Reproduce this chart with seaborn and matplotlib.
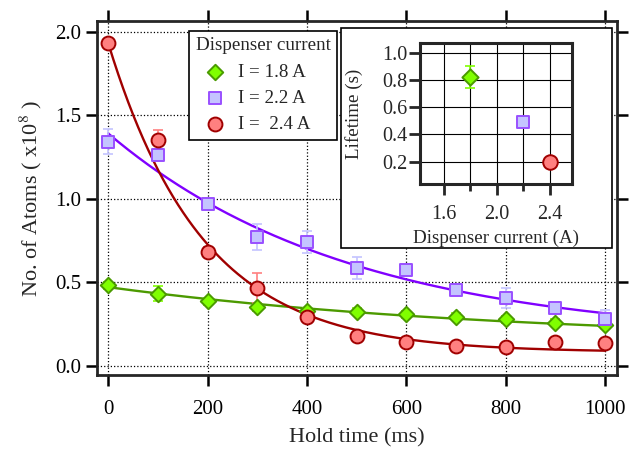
import numpy as np
import pandas as pd
import matplotlib
matplotlib.use('Agg')
import matplotlib.pyplot as plt
import seaborn as sns
from matplotlib.patches import Rectangle

# hold time (ms)
hold_time = [0, 100, 200, 300, 400, 500, 600, 700, 800, 900, 1000]

# number of atoms (x10^8) per dispenser current
atoms_18 = [0.48, 0.432, 0.386, 0.350, 0.328, 0.324, 0.308, 0.294, 0.278, 0.258, 0.244]
atoms_22 = [1.340, 1.260, 0.970, 0.770, 0.740, 0.584, 0.570, 0.454, 0.404, 0.348, 0.278]
atoms_24 = [1.932, 1.354, 0.678, 0.464, 0.294, 0.178, 0.144, 0.120, 0.112, 0.144, 0.138]

err_18 = [0.02, 0.045, 0.02, 0.02, 0.02, 0.02, 0.02, 0.02, 0.02, 0.02, 0.02]
err_22 = [0.075, 0.03, 0.02, 0.08, 0.065, 0.065, 0.03, 0.03, 0.06, 0.03, 0.057]
err_24 = [0.02, 0.055, 0.03, 0.09, 0.03, 0.02, 0.02, 0.02, 0.02, 0.02, 0.02]

# exponential fits  N(t) = A exp(-t/tau) + C
fit_amp = [0.329, 1.237, 1.85]
fit_tau = [820, 490, 190]
fit_off = [0.141, 0.153, 0.08]

# inset: lifetime vs dispenser current
currents = [1.8, 2.2, 2.4]
lifetimes = [0.82, 0.494, 0.196]
lifetime_err = [0.08, 0.02, 0.01]

labels = ['I = 1.8 A', 'I = 2.2 A', 'I =  2.4 A']
markers = ['D', 's', 'o']
msizes = [62, 75, 100]
faces = ['#80ff00', '#c4c4ff', '#ff8080']
edges = ['#4a9a00', '#9950ff', '#a00000']
lines = ['#4c9a00', '#8000ff', '#a00000']
errcols = ['#80ff00', '#c4c4ff', '#ff8080']

sns.set_style('ticks')
plt.rcParams['font.family'] = ['Liberation Serif', 'DejaVu Serif']
plt.rcParams['mathtext.fontset'] = 'stix'

fig = plt.figure(figsize=(6.29, 4.49), dpi=100)
ax = fig.add_axes([0.1537, 0.1637, 0.8268, 0.7895])
ax.set_zorder(1)

series = [atoms_18, atoms_22, atoms_24]
errs = [err_18, err_22, err_24]
t = np.linspace(0, 1000, 300)
for i in range(3):
    fit = fit_amp[i] * np.exp(-t / fit_tau[i]) + fit_off[i]
    sns.lineplot(x=t, y=fit, color=lines[i], linewidth=1.7, ax=ax, zorder=2)
for i in range(3):
    ax.errorbar(hold_time, series[i], yerr=errs[i], fmt='none',
                ecolor=errcols[i], elinewidth=1.2, capsize=3.5, capthick=1.2, zorder=3)
    sns.scatterplot(x=hold_time, y=series[i], marker=markers[i], s=msizes[i],
                    color=faces[i], edgecolor=edges[i], linewidth=1.4,
                    label=labels[i], ax=ax, zorder=4)

ax.set_xlim(-23.4, 1023.6)
ax.set_ylim(-0.059, 2.064)
ax.set_xticks(range(0, 1001, 200))
ax.set_yticks([0, 0.5, 1.0, 1.5, 2.0])
ax.set_yticklabels(['0.0', '0.5', '1.0', '1.5', '2.0'])
ax.grid(True, color='black', linestyle=':', linewidth=0.9)
for s in ax.spines.values():
    s.set_linewidth(2)
ax.tick_params(direction='out', length=8, width=1.8, top=True, right=True,
               labelsize=15, colors='black')
ax.tick_params(axis='x', pad=9.5)
ax.tick_params(axis='y', pad=3)
ax.set_xlabel('Hold time (ms)', fontsize=16, labelpad=7)
ax.set_ylabel(r'No. of Atoms ( x10$^{8}$ )', fontsize=16, labelpad=8)

leg = ax.legend(title='Dispenser current', loc='upper left',
                bbox_to_anchor=(189 / 629, 1 - 30.7 / 449), bbox_transform=fig.transFigure,
                fontsize=13.7, title_fontsize=13.7, frameon=True, fancybox=False,
                edgecolor='black', framealpha=1, borderpad=0.35, labelspacing=0.47,
                handlelength=2.0, handletextpad=0.2, borderaxespad=0)
leg.get_frame().set_linewidth(1.2)
leg._legend_box.align = 'left'

# inset frame
fig.add_artist(Rectangle((341 / 629, 1 - 248 / 449), 271 / 629, 220 / 449,
                         transform=fig.transFigure, facecolor='white',
                         edgecolor='black', linewidth=1.2, zorder=3))

ax2 = fig.add_axes([0.6677, 0.5902, 0.2421, 0.3134])
ax2.set_zorder(5)
for i in range(3):
    ax2.errorbar([currents[i]], [lifetimes[i]], yerr=[lifetime_err[i]], fmt='none',
                 ecolor=errcols[i], elinewidth=1.2, capsize=3.5, capthick=1.2, zorder=3)
    sns.scatterplot(x=[currents[i]], y=[lifetimes[i]], marker=markers[i], s=msizes[i] * 1.1,
                    color=faces[i], edgecolor=edges[i], linewidth=1.4, ax=ax2, zorder=4,
                    legend=False)
ax2.set_xlim(1.423, 2.569)
ax2.set_ylim(0.036, 1.069)
ax2.set_xticks([1.6, 2.0, 2.4])
ax2.set_xticklabels(['1.6', '2.0', '2.4'])
ax2.set_xticks([1.8, 2.2], minor=True)
ax2.set_yticks([0.2, 0.4, 0.6, 0.8, 1.0])
ax2.set_yticklabels(['0.2', '0.4', '0.6', '0.8', '1.0'])
ax2.grid(True, which='both', color='black', linestyle='-', linewidth=0.8)
for s in ax2.spines.values():
    s.set_linewidth(2.2)
ax2.tick_params(which='major', direction='out', length=8, width=2, labelsize=14.5)
ax2.tick_params(which='minor', direction='out', length=5, width=2)
ax2.tick_params(axis='x', pad=7)
ax2.tick_params(axis='y', pad=1)
ax2.set_xlabel('Dispenser current (A)', fontsize=13.7, labelpad=4)
ax2.set_ylabel('Lifetime (s)', fontsize=13.7, labelpad=14)

fig.savefig('out.png', dpi=100)
plt.close()
